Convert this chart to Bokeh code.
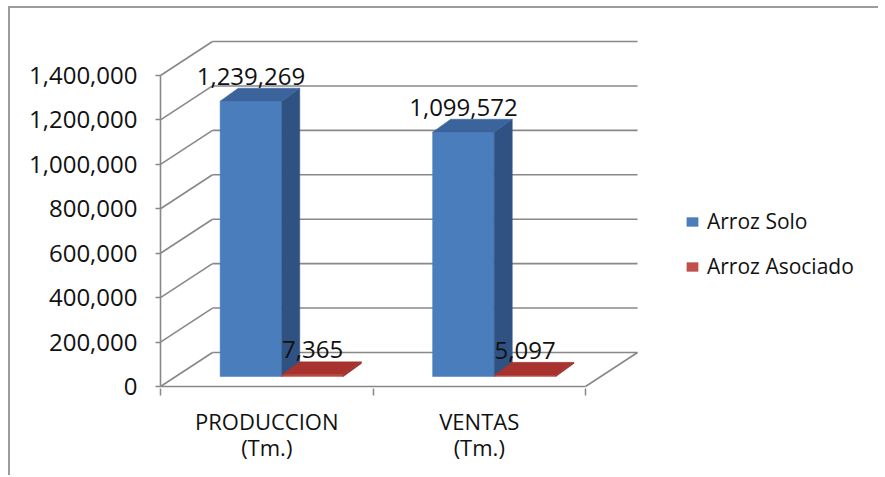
from bokeh.plotting import figure
from bokeh.models import (Range1d, LinearAxis, FixedTicker, NumeralTickFormatter,
                          ColumnDataSource, Legend, LegendItem)
from bokeh.embed import file_html
from bokeh.resources import INLINE
from bokeh.core.properties import value

# ---------------- data ----------------
categories = ["PRODUCCION\n(Tm.)", "VENTAS\n(Tm.)"]
series_names = ["Arroz Solo", "Arroz Asociado"]
arroz_solo = [1239269, 1099572]
arroz_asociado = [7365, 5097]
y_ticks = [0, 200000, 400000, 600000, 800000, 1000000, 1200000, 1400000]

# ---------------- layout ----------------
W, H = 870, 469
ML, MB = 147, 89
SX = 212.5                 # px per category unit
SY = 311 / 1400000         # px per value unit
FW, FH = W - ML, H - MB

FONT = "Open Sans"
GRID = "#888888"

p = figure(width=W, height=H,
           x_range=Range1d(-3 / SX, (FW - 3) / SX),
           y_range=Range1d(-2 / SY, (FH - 2) / SY),
           x_axis_type=None, y_axis_type=None,
           output_backend="svg", toolbar_location=None,
           min_border_left=ML, min_border_right=0,
           min_border_top=0, min_border_bottom=MB)
p.outline_line_color = None
p.background_fill_color = "white"
p.border_fill_color = "white"
p.styles = {"margin-left": "8px", "margin-top": "6px",
            "border-top": "2px solid #9c9c9c", "border-left": "2px solid #9c9c9c"}

# axes
yaxis = LinearAxis(ticker=FixedTicker(ticks=y_ticks),
                   formatter=NumeralTickFormatter(format="0,0"))
yaxis.axis_line_color = None
yaxis.major_tick_in = 3
yaxis.major_tick_out = 2
yaxis.major_tick_line_color = GRID
yaxis.major_tick_line_width = 1.5
yaxis.minor_tick_line_color = None
yaxis.major_label_standoff = 18
yaxis.major_label_text_font = FONT
yaxis.major_label_text_font_size = "24px"
yaxis.major_label_text_color = "#111111"
p.add_layout(yaxis, "left")

n = len(categories)
xaxis = LinearAxis(ticker=FixedTicker(ticks=[i + 0.5 for i in range(n)],
                                      minor_ticks=list(range(n + 1))),
                   major_label_overrides={i + 0.5: c for i, c in enumerate(categories)})
xaxis.axis_line_color = None
xaxis.major_tick_line_color = None
xaxis.major_tick_in = 0
xaxis.major_tick_out = 0
xaxis.minor_tick_line_color = GRID
xaxis.minor_tick_line_width = 1.5
xaxis.minor_tick_in = 0
xaxis.minor_tick_out = 7
xaxis.major_label_standoff = 10
xaxis.major_label_text_font = FONT
xaxis.major_label_text_font_size = "22px"
xaxis.major_label_text_line_height = 0.88
xaxis.major_label_text_color = "#111111"
p.add_layout(xaxis, "below")

# ---------------- 3D walls / grid ----------------
WDX, WDY = 52 / SX, 34 / SY      # wall depth offset
x_end = n + WDX
gx0, gy0, gx1, gy1 = [], [], [], []
for t in y_ticks:
    # side wall diagonal
    gx0.append(0); gy0.append(t); gx1.append(WDX); gy1.append(t + WDY)
    # back wall line
    gx0.append(WDX); gy0.append(t + WDY); gx1.append(x_end); gy1.append(t + WDY)
# floor front edge and right edge, front y axis line
gx0 += [0, n, 0]; gy0 += [0, 0, 0]
gx1 += [n, x_end, 0]; gy1 += [0, WDY, y_ticks[-1]]
p.segment(gx0, gy0, gx1, gy1, line_color=GRID, line_width=1.6)

# ---------------- bars ----------------
BW = 0.29                     # bar width (category units)
BDX, BDY = 15 / SX, 10 / SY   # bar depth position
DDX, DDY = 18 / SX, 13 / SY   # bar depth size

colors = [("#4a7dbb", "#2f5283", "#3b639c"),
          ("#c0504d", "#8e2b28", "#a8322e")]
series = [arroz_solo, arroz_asociado]
front_renderers = []
label_x, label_y, label_t = [], [], []
for s, vals in enumerate(series):
    fxs, fys, sxs, sys_, txs, tys = [], [], [], [], [], []
    for i, v in enumerate(vals):
        x0 = i + 0.5 - BW + s * BW + BDX
        x1 = x0 + BW
        y0 = BDY
        y1 = v + BDY
        fxs.append([x0, x1, x1, x0]); fys.append([y0, y0, y1, y1])
        sxs.append([x1, x1 + DDX, x1 + DDX, x1]); sys_.append([y0, y0 + DDY, y1 + DDY, y1])
        txs.append([x0, x1, x1 + DDX, x0 + DDX]); tys.append([y1, y1, y1 + DDY, y1 + DDY])
        label_x.append((x0 + x1) / 2)
        label_y.append(y1 + DDY + 3.5 / SY)
        label_t.append(f"{v:,}")
    fc, sc, tc = colors[s]
    r = p.patches(fxs, fys, fill_color=fc, line_color=fc, line_width=0.5)
    p.patches(sxs, sys_, fill_color=sc, line_color=sc, line_width=0.5)
    p.patches(txs, tys, fill_color=tc, line_color=tc, line_width=0.5)
    front_renderers.append(r)

src = ColumnDataSource(dict(x=label_x, y=label_y, t=label_t))
p.text(x="x", y="y", text="t", source=src, text_align="center",
       text_baseline="bottom", text_font=value(FONT),
       text_font_size="24px", text_color="#111111")

# ---------------- legend ----------------
legend = Legend(items=[LegendItem(label=series_names[k], renderers=[front_renderers[k]])
                       for k in range(len(series_names))],
                location=(528, 108))
legend.border_line_color = None
legend.background_fill_alpha = 0
legend.padding = 0
legend.margin = 0
legend.glyph_width = 14
legend.glyph_height = 11
legend.label_standoff = 8
legend.spacing = 17
legend.label_height = 20
legend.label_text_font = FONT
legend.label_text_font_size = "21px"
legend.label_text_color = "#111111"
p.add_layout(legend)

open("out.html", "w").write(file_html(p, INLINE))
